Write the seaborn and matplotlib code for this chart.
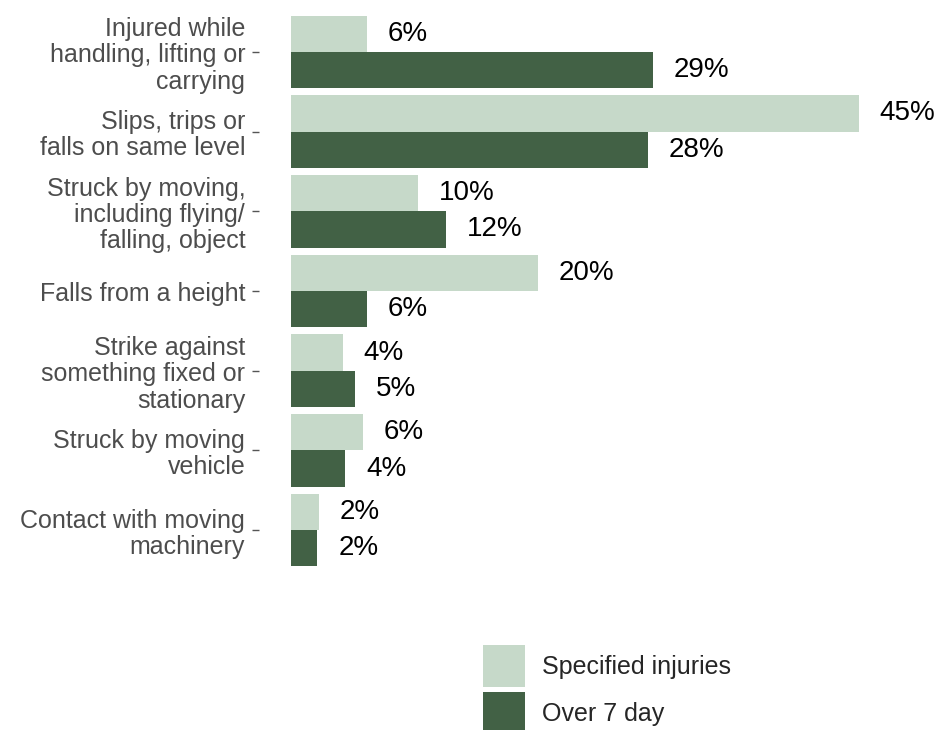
import pandas as pd
import seaborn as sns
from matplotlib import pyplot as plt

causes = [
    "Injured while\nhandling, lifting or\ncarrying",
    "Slips, trips or\nfalls on same level",
    "Struck by moving,\nincluding flying/\nfalling, object",
    "Falls from a height",
    "Strike against\nsomething fixed or\nstationary",
    "Struck by moving\nvehicle",
    "Contact with moving\nmachinery",
]
specified = [6.0, 45.0, 10.1, 19.6, 4.1, 5.7, 2.2]
over_7_day = [28.7, 28.3, 12.3, 6.0, 5.1, 4.3, 2.1]
series_names = ["Specified injuries", "Over 7 day"]
colors = ["#c6d9c9", "#426145"]

df = pd.concat(
    [
        pd.DataFrame({"cause": causes, "pct": specified, "type": series_names[0]}),
        pd.DataFrame({"cause": causes, "pct": over_7_day, "type": series_names[1]}),
    ]
)

sns.set_style("white")
plt.rcParams["font.family"] = ["Liberation Sans", "DejaVu Sans"]

fig = plt.figure(figsize=(9.38, 7.3), dpi=100)
ax = fig.add_axes([291 / 938, 1 - 570 / 730, 1 - 291 / 938 - 0.01, (570 - 12) / 730])

sns.barplot(
    data=df, y="cause", x="pct", hue="type", orient="h",
    palette=colors, width=0.91, gap=0, linewidth=0, saturation=1, ax=ax,
)

ax.set_xlim(0, (929 - 291) / 12.62)
ax.set_ylim(6.5, -0.5)
ax.set_xlabel("")
ax.set_ylabel("")
ax.set_xticks([])
for side in ["top", "right", "bottom", "left"]:
    ax.spines[side].set_color("none")
ax.spines["left"].set_position(("outward", 23))
ax.tick_params(axis="y", left=True, length=5, width=1, color="#555555",
               pad=5, labelsize=18, labelcolor="#4d4d4d")
for lbl in ax.get_yticklabels():
    lbl.set_linespacing(1.12)

for cont in ax.containers:
    ax.bar_label(cont, labels=[f"{v:.0f}%" for v in cont.datavalues],
                 padding=15, fontsize=20, color="black")

handles, labels = ax.get_legend_handles_labels()
ax.get_legend().remove()
fig.legend(
    handles, labels, loc="upper left", bbox_to_anchor=(483 / 938, 1 - 645 / 730),
    frameon=False, fontsize=18, handlelength=1.68, handleheight=2.21,
    handletextpad=0.68, labelspacing=0.2, borderpad=0, borderaxespad=0,
)

fig.savefig("out.png", dpi=100)
